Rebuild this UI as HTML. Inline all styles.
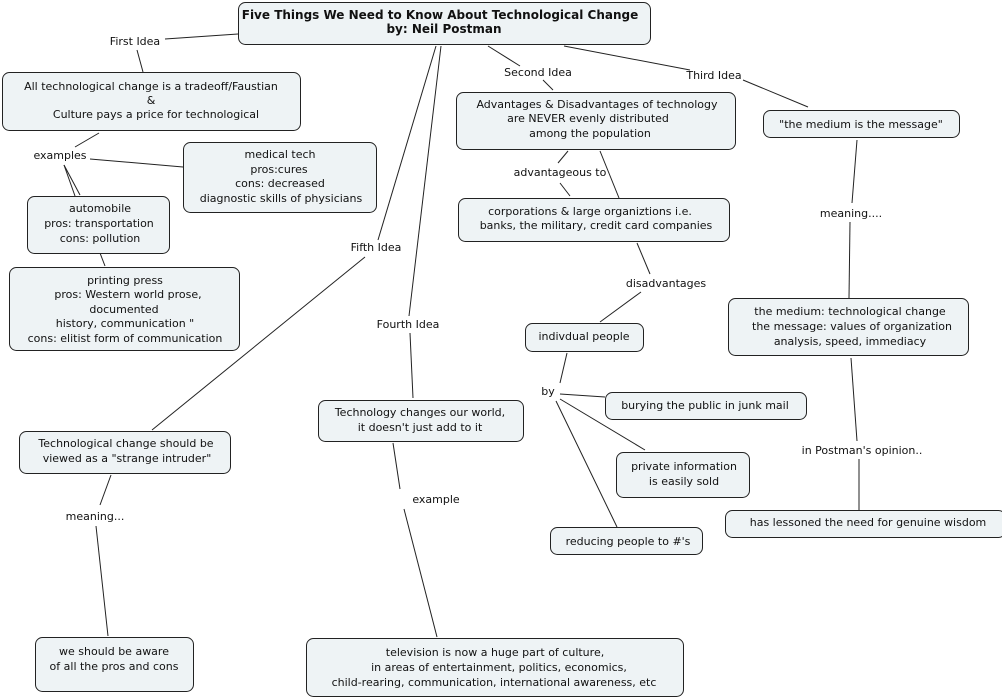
<!DOCTYPE html>
<html><head><meta charset="utf-8"><style>
html,body{margin:0;padding:0;background:#fff;width:1002px;height:698px;overflow:hidden}
svg{display:block}
text{font-family:"DejaVu Sans","Liberation Sans",sans-serif;font-size:11px;fill:#111;text-anchor:middle}
.b{fill:#eef3f5;stroke:#222;stroke-width:1}
line{stroke:#222;stroke-width:1}
</style></head><body>
<svg width="1002" height="698" viewBox="0 0 1002 698">
<g>
<line x1="238" y1="34" x2="165" y2="39"/><line x1="137" y1="50" x2="143" y2="72"/>
<line x1="99" y1="133" x2="75" y2="147"/><line x1="90" y1="159" x2="183" y2="167"/>
<line x1="64" y1="165" x2="80" y2="195"/><line x1="64" y1="165" x2="75" y2="196"/>
<line x1="100" y1="253" x2="105" y2="266"/>
<line x1="436" y1="46" x2="378" y2="240"/><line x1="365" y1="257" x2="152" y2="430"/>
<line x1="441" y1="46" x2="409" y2="316"/><line x1="410" y1="333" x2="413" y2="398"/>
<line x1="488" y1="46" x2="520" y2="66"/><line x1="543" y1="80" x2="553" y2="90"/>
<line x1="564" y1="46" x2="690" y2="70"/><line x1="743" y1="80" x2="808" y2="107"/>
<line x1="568" y1="151" x2="558" y2="163"/><line x1="560" y1="183" x2="570" y2="196"/>
<line x1="600" y1="151" x2="619" y2="198"/>
<line x1="637" y1="243" x2="650" y2="274"/><line x1="641" y1="292" x2="600" y2="322"/>
<line x1="567" y1="353" x2="560" y2="383"/>
<line x1="560" y1="394" x2="605" y2="397"/><line x1="560" y1="399" x2="645" y2="450"/>
<line x1="556" y1="401" x2="617" y2="527"/>
<line x1="857" y1="140" x2="852" y2="203"/><line x1="850" y1="222" x2="849" y2="298"/>
<line x1="851" y1="358" x2="857" y2="441"/><line x1="859" y1="459" x2="859" y2="510"/>
<line x1="393" y1="443" x2="400" y2="489"/><line x1="404" y1="509" x2="437" y2="637"/>
<line x1="111" y1="475" x2="100" y2="505"/><line x1="96" y1="526" x2="108" y2="636"/>
</g>
<rect class="b" x="238.5" y="2.5" width="412" height="42" rx="7"/>
<text x="440" y="19" style="font-weight:bold;font-size:12px">Five Things We Need to Know About Technological Change</text>
<text x="444" y="33" style="font-weight:bold;font-size:12px">by: Neil Postman</text>

<rect class="b" x="2.5" y="72.5" width="298" height="58" rx="7"/>
<text x="151" y="90">All technological change is a tradeoff/Faustian</text>
<text x="151" y="104">&amp;</text>
<text x="156" y="118">Culture pays a price for technological</text>

<rect class="b" x="183.5" y="142.5" width="193" height="70" rx="7"/>
<text x="280" y="158">medical tech</text><text x="279" y="173">pros:cures</text>
<text x="280" y="187">cons: decreased</text><text x="281" y="202">diagnostic skills of physicians</text>

<rect class="b" x="27.5" y="196.5" width="142" height="57" rx="7"/>
<text x="100" y="212">automobile</text><text x="99" y="227">pros: transportation</text><text x="100" y="242">cons: pollution</text>

<rect class="b" x="9.5" y="267.5" width="230" height="83" rx="7"/>
<text x="125" y="284">printing press</text><text x="128" y="298">pros: Western world prose,</text>
<text x="124" y="313">documented</text><text x="125" y="327">history, communication "</text>
<text x="125" y="342">cons: elitist form of communication</text>

<rect class="b" x="456.5" y="92.5" width="279" height="57" rx="7"/>
<text x="597" y="108">Advantages &amp; Disadvantages of technology</text>
<text x="588" y="122">are NEVER evenly distributed</text><text x="590" y="137">among the population</text>

<rect class="b" x="458.5" y="198.5" width="271" height="43" rx="7"/>
<text x="590" y="215">corporations &amp; large organiztions i.e.</text>
<text x="596" y="229">banks, the military, credit card companies</text>

<rect class="b" x="763.5" y="110.5" width="196" height="27" rx="7"/>
<text x="861" y="128">"the medium is the message"</text>

<rect class="b" x="525.5" y="323.5" width="118" height="28" rx="7"/>
<text x="584" y="340">indivdual people</text>

<rect class="b" x="728.5" y="298.5" width="240" height="57" rx="7"/>
<text x="850" y="315">the medium: technological change</text>
<text x="852" y="330">the message: values of organization</text>
<text x="850" y="345">analysis, speed, immediacy</text>

<rect class="b" x="605.5" y="392.5" width="201" height="27" rx="7"/>
<text x="705" y="409">burying the public in junk mail</text>

<rect class="b" x="616.5" y="452.5" width="133" height="45" rx="7"/>
<text x="684" y="470">private information</text><text x="684" y="485">is easily sold</text>

<rect class="b" x="550.5" y="527.5" width="152" height="27" rx="7"/>
<text x="628" y="545">reducing people to #'s</text>

<rect class="b" x="725.5" y="510.5" width="280" height="27" rx="7"/>
<text x="868" y="526">has lessoned the need for genuine wisdom</text>

<rect class="b" x="318.5" y="400.5" width="205" height="41" rx="7"/>
<text x="420" y="416">Technology changes our world,</text><text x="420" y="431">it doesn't just add to it</text>

<rect class="b" x="19.5" y="431.5" width="211" height="42" rx="7"/>
<text x="126" y="447">Technological change should be</text><text x="127" y="462">viewed as a "strange intruder"</text>

<rect class="b" x="35.5" y="637.5" width="158" height="54" rx="7"/>
<text x="114" y="655">we should  be aware</text><text x="114" y="670">of all the pros and cons</text>

<rect class="b" x="306.5" y="638.5" width="377" height="58" rx="7"/>
<text x="495" y="656">television is now a huge part of culture,</text>
<text x="499" y="671">in areas of entertainment, politics, economics,</text>
<text x="494" y="686">child-rearing, communication, international awareness, etc</text>

<g>
<text x="135" y="45">First Idea</text>
<text x="60" y="159">examples</text>
<text x="538" y="76">Second Idea</text>
<text x="714" y="79">Third Idea</text>
<text x="376" y="251">Fifth Idea</text>
<text x="408" y="328">Fourth Idea</text>
<text x="560" y="176">advantageous to</text>
<text x="666" y="287">disadvantages</text>
<text x="548" y="395">by</text>
<text x="851" y="217">meaning....</text>
<text x="862" y="454">in Postman's opinion..</text>
<text x="436" y="503">example</text>
<text x="95" y="520">meaning...</text>
</g>
</svg>
</body></html>
